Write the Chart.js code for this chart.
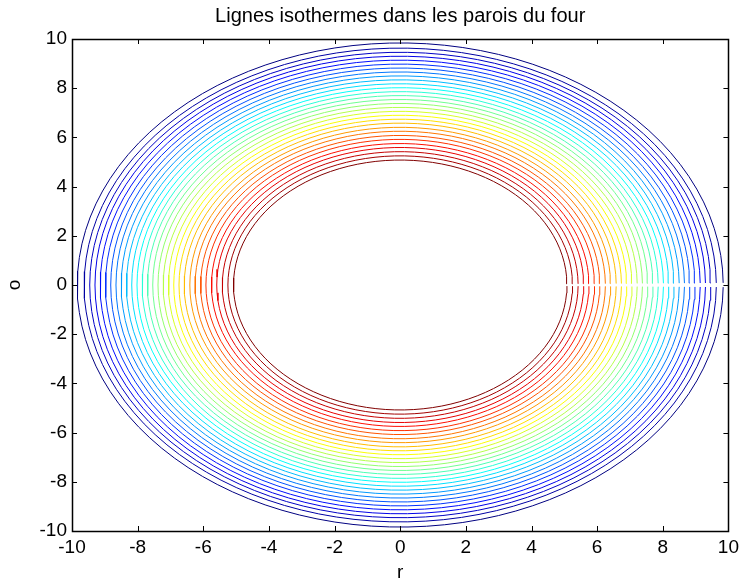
<!DOCTYPE html>
<html>
<head>
<meta charset="utf-8">
<script src="https://cdn.jsdelivr.net/npm/chart.js@4.4.1/dist/chart.umd.min.js"></script>
<style>
  html, body { margin: 0; padding: 0; background: #fff; }
</style>
</head>
<body>
<canvas id="isoChart" width="744" height="585"></canvas>
<script>
const chartTitle = 'Lignes isothermes dans les parois du four';
const xLabel = 'r';
const yLabel = 'o';

// radius of each isotherm, inner wall (hot) to outer wall (cold)
const isoRadii = [
    5.08, 5.25, 5.42, 5.59, 5.75, 5.92, 6.08, 6.25, 6.41, 6.58,
    6.74, 6.90, 7.06, 7.22, 7.38, 7.54, 7.70, 7.86, 8.02, 8.18,
    8.34, 8.50, 8.66, 8.82, 8.98, 9.14, 9.30, 9.46, 9.63, 9.84
];

const xTicks = [-10, -8, -6, -4, -2, 0, 2, 4, 6, 8, 10];
const yTicks = [-10, -8, -6, -4, -2, 0, 2, 4, 6, 8, 10];

const FONT = 'Liberation Sans, Arial, Helvetica, sans-serif';
const SEAM_DEG = 0.5;   // polar mesh does not close at theta = 0
const SEGMENTS = 110;

// matlab "jet" colormap, t in [0, 1]
function jet(t) {
    const c = v => Math.round(255 * Math.min(1, Math.max(0, v)));
    return `rgb(${c(1.5 - Math.abs(4 * t - 3))},${c(1.5 - Math.abs(4 * t - 2))},${c(1.5 - Math.abs(4 * t - 1))})`;
}

function ringPoints(r) {
    const pts = [];
    const span = 360 - 2 * SEAM_DEG;
    for (let i = 0; i <= SEGMENTS; i++) {
        const a = (SEAM_DEG + span * i / SEGMENTS) * Math.PI / 180;
        pts.push({ x: r * Math.cos(a), y: r * Math.sin(a) });
    }
    return pts;
}

const datasets = isoRadii.map((r, i) => ({
    data: ringPoints(r),
    showLine: true,
    borderColor: jet(1 - i / (isoRadii.length - 1)),
    borderWidth: 1,
    pointRadius: 0,
    tension: 0
}));

// box around the axes with inward ticks on all four sides
const axesBox = {
    id: 'axesBox',
    afterDraw(chart) {
        const { ctx, chartArea: a, scales } = chart;
        const len = 5;
        ctx.save();
        ctx.strokeStyle = '#000';
        ctx.lineWidth = 1;
        ctx.beginPath();
        xTicks.forEach(v => {
            const px = Math.round(scales.x.getPixelForValue(v)) + 0.5;
            ctx.moveTo(px, a.bottom); ctx.lineTo(px, a.bottom - len);
            ctx.moveTo(px, a.top); ctx.lineTo(px, a.top + len);
        });
        yTicks.forEach(v => {
            const py = Math.round(scales.y.getPixelForValue(v)) + 0.5;
            ctx.moveTo(a.left, py); ctx.lineTo(a.left + len, py);
            ctx.moveTo(a.right, py); ctx.lineTo(a.right - len, py);
        });
        ctx.stroke();
        ctx.lineWidth = 1.5;
        ctx.strokeRect(Math.round(a.left) + 0.5, Math.round(a.top) + 0.5,
            Math.round(a.right - a.left), Math.round(a.bottom - a.top));
        ctx.restore();
    }
};

const tickFont = { family: FONT, size: 19 };

new Chart(document.getElementById('isoChart'), {
    type: 'scatter',
    data: { datasets },
    options: {
        responsive: false,
        animation: false,
        events: [],
        layout: { padding: { left: 0, right: 15, top: 0, bottom: 0 } },
        plugins: {
            legend: { display: false },
            tooltip: { enabled: false },
            title: {
                display: true,
                fullSize: false,
                text: chartTitle,
                color: '#000',
                font: { family: FONT, size: 20, weight: 'normal' },
                padding: { top: 4, bottom: 11 }
            }
        },
        scales: {
            x: {
                type: 'linear',
                min: -10,
                max: 10,
                afterBuildTicks: s => { s.ticks = xTicks.map(v => ({ value: v })); },
                afterFit: s => { s.height = 54; },
                grid: { display: false, drawTicks: false },
                border: { display: false },
                ticks: { color: '#000', font: tickFont, padding: 5, maxRotation: 0, autoSkip: false },
                title: { display: true, text: xLabel, color: '#000', font: tickFont, padding: { top: 0, bottom: 1 } }
            },
            y: {
                type: 'linear',
                min: -10,
                max: 10,
                afterBuildTicks: s => { s.ticks = yTicks.map(v => ({ value: v })); },
                afterFit: s => { s.width = 72; },
                grid: { display: false, drawTicks: false },
                border: { display: false },
                ticks: { color: '#000', font: tickFont, padding: 5, autoSkip: false },
                title: { display: true, text: yLabel, color: '#000', font: tickFont, padding: { top: 3, bottom: 0 } }
            }
        }
    },
    plugins: [axesBox]
});
</script>
</body>
</html>
